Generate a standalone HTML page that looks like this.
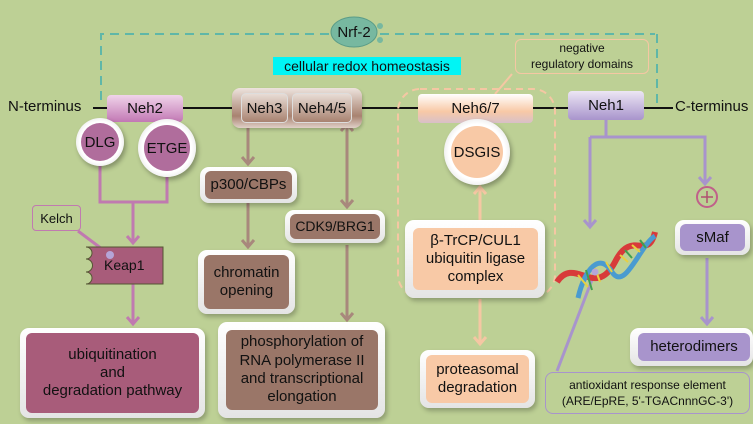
<!DOCTYPE html>
<html><head><meta charset="utf-8"><style>
*{margin:0;padding:0;box-sizing:border-box}
body{width:753px;height:424px;overflow:hidden;background:#bdd095;font-family:"Liberation Sans",sans-serif;position:relative;color:#111}
.a{position:absolute}
.c{display:flex;align-items:center;justify-content:center;text-align:center}
.outer{position:absolute;background:linear-gradient(#fff,#e4e4e4);border-radius:9px;box-shadow:2px 3px 5px rgba(0,0,0,.25)}
.inner{position:absolute;left:6px;top:5px;right:6px;bottom:5px;border-radius:6px;display:flex;align-items:center;justify-content:center;text-align:center;line-height:1.2}
.circ{position:absolute;border-radius:50%;background:radial-gradient(#fff 60%,#ccc);box-shadow:2px 3px 5px rgba(0,0,0,.3);display:flex;align-items:center;justify-content:center}
.circ div{border-radius:50%;display:flex;align-items:center;justify-content:center}
</style></head><body>
<svg class="a" style="left:0;top:0" width="753" height="424">
<path d="M101,100 V34 H655 M657,34 V103" fill="none" stroke="#5fb7a8" stroke-width="2" stroke-dasharray="9,6"/>
<line x1="93" y1="108" x2="673" y2="108" stroke="#111" stroke-width="2"/>
<rect x="398" y="89" width="157" height="208" rx="22" fill="none" stroke="#f5c7a3" stroke-width="2" stroke-dasharray="7,5"/>
<line x1="512" y1="74" x2="495" y2="94" stroke="#f5c7a3" stroke-width="2"/>
<g fill="none" stroke-width="3" stroke-linejoin="miter">
<!-- pink -->
<g stroke="#c07ab0">
<path d="M100,165 V202 H167 V177 M133,202 V243 M133,284 V324 M78,231 L110,255"/>
<path d="M127,236 L133,243 L139,236 M127,317 L133,324 L139,317"/>
</g>
<!-- brown -->
<g stroke="#a8887c">
<path d="M248,122 V164 M248,203 V247 M347,124 V207 M347,245 V320"/>
<path d="M242,157 L248,164 L254,157 M242,240 L248,247 L254,240 M341,131 L347,124 L353,131 M341,200 L347,207 L353,200 M341,313 L347,320 L353,313"/>
</g>
<!-- peach -->
<g stroke="#f5c7a3">
<path d="M480,220 V187 M480,299 V344"/>
<path d="M474,194 L480,187 L486,194 M474,337 L480,344 L486,337"/>
</g>
<!-- purple -->
<g stroke="#a894cc">
<path d="M606,120 V137 M590,137 H705 V184 M590,137 V227 M707,258 V324 M557,371 L595,272"/>
<path d="M584,220 L590,227 L596,220 M699,177 L705,184 L711,177 M701,317 L707,324 L713,317"/>
</g>
</g>
<circle cx="707" cy="197" r="10" fill="none" stroke="#c0608a" stroke-width="2"/>
<path d="M701,197 H713 M707,191 V203" stroke="#b05070" stroke-width="1.5"/>
<!-- DNA -->
<path d="M557,282 C575,255 595,300 615,262 C632,228 648,262 655,232" fill="none" stroke="#d83a3a" stroke-width="6"/>
<path d="M578,298 C585,268 600,252 612,272 C625,292 640,245 655,236" fill="none" stroke="#4a9bd0" stroke-width="5"/>
<path d="M578,275 L588,287 M595,268 L600,282 M620,255 L628,262 M632,245 L640,252 M606,262 L612,272" stroke="#e8d040" stroke-width="2"/>
<path d="M586,270 L592,290 M625,250 L632,258 M640,240 L646,248" stroke="#40a050" stroke-width="2"/>
<circle cx="595" cy="272" r="3.5" fill="#b5a5d8"/>
<!-- Keap1 -->
<path d="M86,247 H163 V284 H86 A6,6 0 0 0 86,272 A6,6 0 0 0 86,259 A6,6 0 0 0 86,247 Z" fill="#a85c7a" stroke="#553" stroke-width="1"/>
<circle cx="110" cy="255" r="4" fill="#b5a5d8"/>
<ellipse cx="354" cy="32" rx="23" ry="15" fill="#77b8a0" stroke="#5a9c88"/>
<circle cx="380" cy="26" r="3" fill="#77b8a0"/><circle cx="380" cy="40" r="3" fill="#77b8a0"/>
</svg>
<div class="a c" style="top:20px;left:331px;width:46px;height:24px;font-size:15px">Nrf-2</div>
<div class="a c" style="left:273px;top:57px;width:188px;height:18px;background:#00f5f5;font-size:14px">cellular redox homeostasis</div>
<div class="a c" style="left:515px;top:39px;width:134px;height:35px;border:1px solid #f5c7a3;border-radius:6px;font-size:12px;line-height:1.3">negative<br>regulatory domains</div>
<div class="a" style="left:8px;top:98px;font-size:15px">N-terminus</div>
<div class="a" style="left:675px;top:98px;font-size:15px">C-terminus</div>
<div class="a c" style="left:107px;top:95px;width:76px;height:27px;border-radius:4px;background:linear-gradient(#f0d4ea,#c278b4);font-size:15px">Neh2</div>
<div class="a" style="left:232px;top:88px;width:130px;height:40px;border-radius:8px;background:linear-gradient(#ede3dd,#a88270 70%,#e0d0c8);box-shadow:1px 2px 3px rgba(0,0,0,.2)"></div>
<div class="a c" style="left:241px;top:93px;width:47px;height:30px;border-radius:5px;border:1px solid #ddd;background:linear-gradient(#e8dcd5,#a88270);font-size:15px">Neh3</div>
<div class="a c" style="left:292px;top:93px;width:60px;height:30px;border-radius:5px;border:1px solid #ddd;background:linear-gradient(#e8dcd5,#a88270);font-size:15px">Neh4/5</div>
<div class="a c" style="left:418px;top:94px;width:115px;height:29px;border-radius:4px;background:linear-gradient(#fff,#f8c9a6 60%,#d8c0c8);font-size:15px">Neh6/7</div>
<div class="a c" style="left:568px;top:91px;width:76px;height:29px;border-radius:4px;background:linear-gradient(#ece6f4,#a894cc);font-size:15px">Neh1</div>
<div class="circ" style="left:76px;top:118px;width:48px;height:48px"><div style="width:38px;height:38px;background:#b06d9c;font-size:15px">DLG</div></div>
<div class="circ" style="left:138px;top:119px;width:58px;height:58px"><div style="width:46px;height:46px;background:#b06d9c;font-size:15px">ETGE</div></div>
<div class="circ" style="left:444px;top:119px;width:66px;height:66px"><div style="width:52px;height:52px;background:#f8c9a6;font-size:15px">DSGIS</div></div>
<div class="a c" style="left:32px;top:205px;width:49px;height:26px;border:1px solid #c07ab0;border-radius:4px;font-size:13px">Kelch</div>
<div class="a" style="left:104px;top:257px;font-size:14px">Keap1</div>
<div class="outer" style="left:20px;top:328px;width:185px;height:90px"><div class="inner" style="background:#a85c7a;font-size:15px">ubiquitination<br>and<br>degradation pathway</div></div>
<div class="outer" style="left:200px;top:167px;width:97px;height:36px"><div class="inner" style="left:5px;right:5px;top:4px;bottom:4px;background:#9a7668;font-size:15px">p300/CBPs</div></div>
<div class="outer" style="left:198px;top:250px;width:97px;height:64px"><div class="inner" style="background:#9a7668;font-size:15px">chromatin<br>opening</div></div>
<div class="outer" style="left:285px;top:210px;width:100px;height:33px"><div class="inner" style="left:5px;right:5px;top:4px;bottom:4px;background:#9a7668;font-size:14px">CDK9/BRG1</div></div>
<div class="outer" style="left:218px;top:322px;width:167px;height:96px"><div class="inner" style="left:8px;top:8px;right:7px;bottom:8px;background:#9a7668;font-size:15px;line-height:1.22">phosphorylation of<br>RNA polymerase II<br>and transcriptional<br>elongation</div></div>
<div class="outer" style="left:405px;top:220px;width:140px;height:78px"><div class="inner" style="left:8px;top:8px;right:7px;bottom:8px;background:#f8c9a6;font-size:15px">β-TrCP/CUL1<br>ubiquitin ligase<br>complex</div></div>
<div class="outer" style="left:420px;top:350px;width:115px;height:58px"><div class="inner" style="background:#f8c9a6;font-size:15px">proteasomal<br>degradation</div></div>
<div class="outer" style="left:675px;top:220px;width:75px;height:35px"><div class="inner" style="left:5px;right:5px;top:4px;bottom:4px;background:#a894cc;font-size:15px">sMaf</div></div>
<div class="outer" style="left:630px;top:328px;width:123px;height:38px"><div class="inner" style="left:8px;top:5px;right:3px;bottom:5px;background:#a894cc;font-size:15px">heterodimers</div></div>
<div class="a c" style="left:545px;top:372px;width:205px;height:42px;border:1px solid #a894cc;border-radius:8px;font-size:12px;line-height:1.35">antioxidant response element<br>(ARE/EpRE, 5'-TGACnnnGC-3')</div>
</body></html>
